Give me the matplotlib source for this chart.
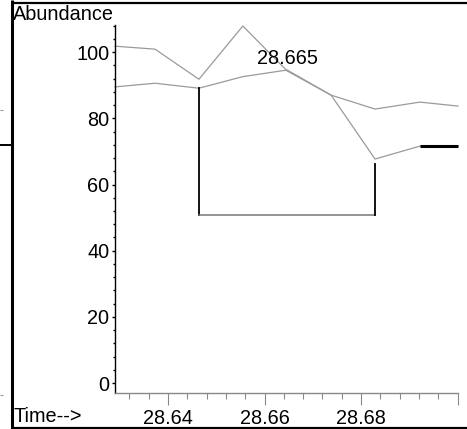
import matplotlib
matplotlib.use("Agg")
import matplotlib.pyplot as plt
from matplotlib.lines import Line2D
from matplotlib.ticker import MultipleLocator

plt.rcParams['font.family'] = ['Liberation Sans', 'DejaVu Sans']

# ---- data ----
time = [28.6290, 28.6373, 28.6464, 28.6555, 28.6647, 28.6738, 28.6829, 28.6922, 28.7001]
trace_a = [101.8, 100.9, 91.8, 107.9, 94.3, 87.0, 67.7, 71.6, 71.6]
trace_b = [89.5, 90.6, 89.1, 92.6, 94.6, 87.0, 82.8, 84.9, 83.7]
peak_label = "28.665"
peak_idx = 4
base_start_idx = 2
base_end_idx = 6
baseline_level = 50.8
x_ticks = [28.64, 28.66, 28.68, 28.70]
x_tick_labels = ["28.64", "28.66", "28.68", ""]
y_ticks = [0, 20, 40, 60, 80, 100]

W, H = 467, 429
fig = plt.figure(figsize=(W / 100, H / 100), dpi=100)
fig.patch.set_facecolor('white')

def fx(px):
    return px / W

def fy(py):
    return 1 - py / H

ax = fig.add_axes([fx(115), fy(393), fx(458) - fx(115), fy(25) - fy(393)])
ax.set_xlim(28.6290, 28.7001)
ax.set_ylim(-3.0, 108.2)

for s in ['top', 'right']:
    ax.spines[s].set_visible(False)
ax.spines['left'].set_linewidth(1.0)
ax.spines['bottom'].set_linewidth(1.0)
ax.spines['bottom'].set_color('#888888')

gray = '#9a9a9a'
ax.plot(time, trace_a, color=gray, lw=0.9, clip_on=False)
ax.plot(time, trace_b, color=gray, lw=0.9, clip_on=False)
ax.plot(time[7:9], trace_a[7:9], color='black', lw=2.2, clip_on=False, solid_capstyle='butt')

# baseline
ax.plot([time[base_start_idx], time[base_start_idx]], [trace_b[base_start_idx], baseline_level],
        color='black', lw=1.3)
ax.plot([time[base_start_idx], time[base_end_idx]], [baseline_level, baseline_level],
        color='#777777', lw=1.1)
ax.plot([time[base_end_idx], time[base_end_idx]], [trace_a[base_end_idx] - 1.5, baseline_level],
        color='black', lw=1.3)

fs = 14.3
ax.text(time[peak_idx], 98.2, peak_label, ha='center', va='center', fontsize=fs)

ax.set_xticks(x_ticks)
ax.set_xticklabels(x_tick_labels)
ax.xaxis.set_minor_locator(MultipleLocator(0.004))
ax.set_yticks(y_ticks)
ax.yaxis.set_minor_locator(MultipleLocator(4))

ax.tick_params(axis='x', which='major', length=8.5, width=0.8, color='#888888', labelsize=fs, pad=3)
ax.tick_params(axis='x', which='minor', length=4, width=0.8, color='#888888')
ax.tick_params(axis='y', which='major', length=2.5, width=1.0, labelsize=fs, pad=1.5)
ax.tick_params(axis='y', which='minor', length=1.8, width=1.0)

fig.text(fx(13), fy(15), "Abundance", ha='left', va='center', fontsize=fs)
fig.text(fx(13), fy(417), "Time-->", ha='left', va='center', fontsize=fs)

# frame lines
def fline(x0, y0, x1, y1, lw, color='black'):
    fig.add_artist(Line2D([fx(x0), fx(x1)], [fy(y0), fy(y1)], transform=fig.transFigure,
                          color=color, lw=lw, solid_capstyle='butt'))

fline(12, 3, 467, 3, 1.6)
fline(12, 0, 12, 429, 2.2)
fline(12, 427.5, 467, 427.5, 1.6)
fline(0, 145, 12, 145, 1.4)
fline(0, 110, 3, 110, 0.8, '#999999')
fline(0, 395, 3, 395, 0.8, '#999999')

fig.savefig("out.png", dpi=100, facecolor='white')
